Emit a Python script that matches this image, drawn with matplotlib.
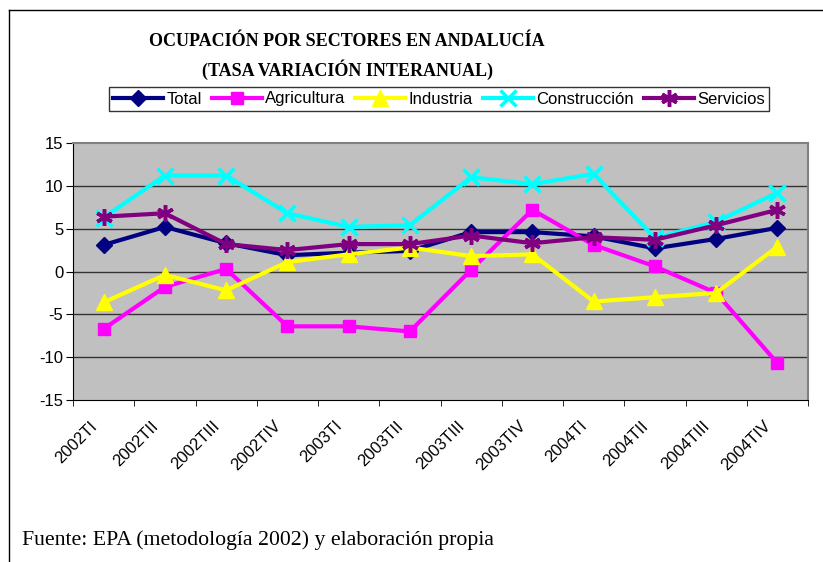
import numpy as np
import matplotlib
matplotlib.use("Agg")
import matplotlib.pyplot as plt
from matplotlib.lines import Line2D
from matplotlib.transforms import ScaledTranslation

plt.rcParams.update({"font.family": "Liberation Sans", "font.size": 12,
                     "axes.unicode_minus": False})

quarters = ["2002TI", "2002TII", "2002TIII", "2002TIV",
            "2003TI", "2003TII", "2003TIII", "2003TIV",
            "2004TI", "2004TII", "2004TIII", "2004TIV"]

total = [3.1, 5.2, 3.3, 1.9, 2.2, 2.4, 4.6, 4.6, 4.1, 2.7, 3.8, 5.1]
agricultura = [-6.7, -1.8, 0.3, -6.4, -6.4, -7.0, 0.2, 7.2, 3.1, 0.6, -2.5, -10.7]
industria = [-3.6, -0.4, -2.2, 1.1, 2.0, 2.8, 1.8, 2.0, -3.5, -3.0, -2.5, 2.9]
construccion = [6.3, 11.2, 11.2, 6.8, 5.2, 5.4, 11.0, 10.2, 11.4, 3.9, 5.8, 9.2]
servicios = [6.4, 6.8, 3.2, 2.5, 3.2, 3.2, 4.2, 3.3, 4.0, 3.7, 5.4, 7.2]

series = [
    ("Total", total, "#000080", "D", 8),
    ("Agricultura", agricultura, "#FF00FF", "s", 9),
    ("Industria", industria, "#FFFF00", "^", 11),
    ("Construcción", construccion, "#00FFFF", "x", 11),
    ("Servicios", servicios, "#800080", (6, 2, 0), 12),
]

fig = plt.figure(figsize=(8.23, 5.62), dpi=100)
W, H = 823, 562
ax = fig.add_axes([73 / W, 1 - 400 / H, 735 / W, 257 / H])
ax.set_facecolor("#C0C0C0")

x = np.arange(len(quarters))
handles = []
for name, vals, col, mk, ms in series:
    mew = 2.5 if mk in ("x", (6, 2, 0)) else 1
    ln, = ax.plot(x, vals, color=col, lw=3, marker=mk, markersize=ms,
                  markeredgewidth=mew, markeredgecolor=col, label=name,
                  clip_on=False, zorder=3)
    handles.append(ln)

ax.set_xlim(-0.5, len(quarters) - 0.5)
ax.set_ylim(-15, 15)
ax.set_yticks(np.arange(-15, 16, 5))
ax.set_xticks(x)
ax.set_xticklabels(quarters, rotation=45, ha="right", va="center",
                   rotation_mode="anchor")
ax.tick_params(axis="x", length=0, pad=17, labelsize=12)
offset = ScaledTranslation(-0.09, 0, fig.dpi_scale_trans)
for lab in ax.get_xticklabels():
    lab.set_transform(lab.get_transform() + offset)
ax.set_xticks(np.arange(-0.5, len(quarters), 1), minor=True)
ax.tick_params(axis="x", which="minor", length=4, direction="out")
ax.tick_params(axis="y", length=5, direction="out", labelsize=12, pad=2)
for v in range(-10, 15, 5):
    ax.axhline(v, color="#333333", lw=1, zorder=1)
ax.spines["top"].set_color("#808080")
ax.spines["right"].set_color("#808080")
ax.spines["top"].set_linewidth(1.5)
ax.spines["right"].set_linewidth(1.5)

fig.text(347 / W, 1 - 42 / H, "OCUPACIÓN POR SECTORES EN ANDALUCÍA",
         ha="center", va="center", fontsize=13, fontweight="bold",
         family="Liberation Serif")
fig.text(347 / W, 1 - 70 / H, "(TASA VARIACIÓN INTERANUAL)",
         ha="center", va="center", fontsize=13, fontweight="bold",
         family="Liberation Serif")

leg = fig.legend(handles=handles, loc="center", bbox_to_anchor=(439 / W, 1 - 99 / H),
                 ncol=5, frameon=True, fancybox=False, edgecolor="black",
                 handlelength=3.0, handletextpad=0.2, columnspacing=0.6,
                 borderpad=0.25, fontsize=12, borderaxespad=0)
leg.get_frame().set_linewidth(1)

fig.text(22 / W, 1 - 540 / H, "Fuente: EPA (metodología 2002) y elaboración propia",
         ha="left", va="center", fontsize=15.7, family="Liberation Serif")

fig.add_artist(Line2D([9 / W, 1], [1 - 10 / H, 1 - 10 / H], color="black", lw=1))
fig.add_artist(Line2D([9 / W, 9 / W], [0, 1 - 10 / H], color="black", lw=1))

fig.savefig("out.png", dpi=100)
